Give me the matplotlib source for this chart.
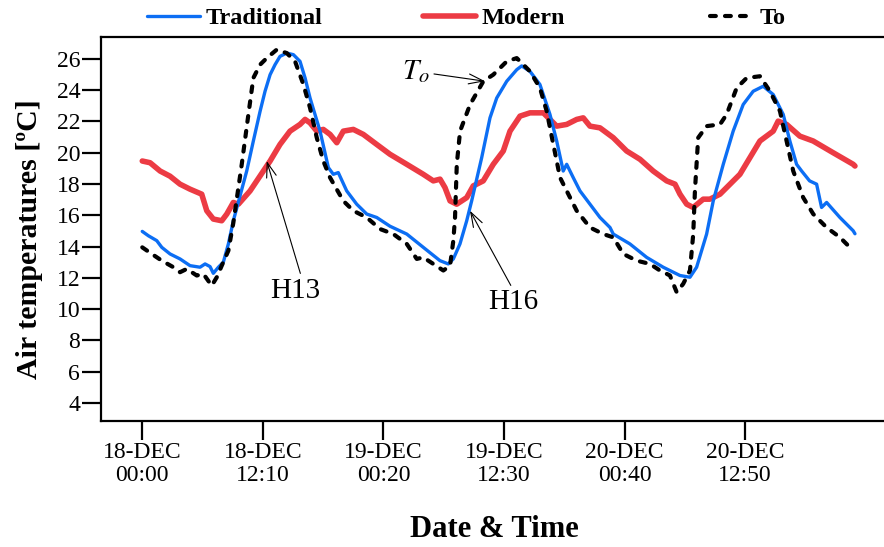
import matplotlib
matplotlib.use("Agg")
import matplotlib.pyplot as plt

plt.rcParams["font.family"] = ["Liberation Serif", "DejaVu Serif"]
plt.rcParams["mathtext.fontset"] = "stix"

# Time axis: hours elapsed since 18-DEC 00:00
trad_hours = [0.0, 0.62, 1.46, 1.97, 2.8, 3.81, 4.82, 5.83, 6.34, 6.84, 7.17, 7.68, 8.18,
              8.69, 9.19, 10.54, 11.21, 11.89, 12.39, 12.9, 13.4, 13.9, 14.58, 15.25, 15.92,
              16.43, 16.93, 17.94, 18.78, 19.28, 19.78, 20.63, 21.64, 22.65, 23.66, 25.0,
              26.69, 28.36, 30.04, 30.88, 31.39, 32.06, 32.74, 33.24, 34.25, 35.09, 35.77,
              36.78, 37.79, 38.29, 39.13, 40.13, 41.14, 41.82, 42.48, 42.83, 43.49, 44.17,
              45.18, 46.19, 47.2, 47.53, 49.21, 50.9, 52.57, 54.26, 55.27, 55.94, 56.95,
              57.62, 58.63, 59.63, 60.64, 61.65, 62.66, 63.67, 64.68, 65.35, 66.03, 66.54,
              67.34, 68.05, 68.55, 69.06, 70.4, 71.74, 71.92]
trad_temp = [14.97, 14.69, 14.38, 13.95, 13.53, 13.21, 12.78, 12.68, 12.89, 12.72, 12.29,
             12.68, 13.0, 14.17, 15.65, 18.83, 20.75, 22.65, 23.93, 24.99, 25.63, 26.16,
             26.37, 26.27, 25.84, 24.78, 23.5, 21.38, 19.05, 18.62, 18.73, 17.56, 16.71,
             16.08, 15.86, 15.3, 14.8, 13.95, 13.1, 12.89, 13.21, 14.17, 15.65, 16.92,
             19.68, 22.23, 23.5, 24.57, 25.31, 25.55, 25.2, 24.36, 22.45, 20.75, 18.83,
             19.26, 18.41, 17.56, 16.71, 15.86, 15.22, 14.8, 14.17, 13.31, 12.68, 12.15,
             12.04, 12.68, 14.8, 16.92, 19.26, 21.38, 23.08, 23.93, 24.25, 23.72, 22.45,
             20.75, 19.26, 18.83, 18.2, 17.99, 16.5, 16.82, 15.86, 15.01, 14.82]

mod_hours = [0.0, 0.79, 1.8, 2.8, 3.81, 4.82, 6.0, 6.51, 7.17, 8.02, 8.53, 9.19, 9.7,
             10.88, 12.22, 12.9, 13.9, 14.91, 15.92, 16.43, 16.93, 17.61, 18.27, 18.95,
             19.63, 20.29, 21.3, 22.31, 23.66, 25.0, 26.69, 28.36, 29.37, 30.05, 30.55,
             31.06, 31.73, 32.74, 33.4, 34.41, 35.42, 36.43, 37.11, 38.12, 39.13, 40.47,
             41.14, 41.82, 42.83, 43.84, 44.5, 45.18, 46.19, 47.53, 48.88, 50.23, 51.56,
             52.92, 53.76, 54.26, 54.94, 55.6, 56.61, 57.28, 58.3, 60.31, 62.33, 63.67,
             64.17, 65.02, 66.36, 67.7, 69.72, 71.74, 71.92]
mod_temp = [19.47, 19.36, 18.83, 18.5, 17.99, 17.67, 17.35, 16.29, 15.76, 15.65, 16.08,
            16.82, 16.71, 17.56, 18.83, 19.47, 20.53, 21.38, 21.81, 22.13, 21.91, 21.38,
            21.49, 21.17, 20.64, 21.38, 21.49, 21.17, 20.53, 19.9, 19.26, 18.62, 18.2,
            18.31, 17.77, 16.92, 16.71, 17.13, 17.88, 18.2, 19.26, 20.11, 21.38, 22.34,
            22.55, 22.55, 22.13, 21.7, 21.81, 22.13, 22.23, 21.7, 21.59, 20.96, 20.11,
            19.58, 18.83, 18.2, 17.99, 17.35, 16.71, 16.5, 17.03, 17.03, 17.35, 18.62,
            20.75, 21.38, 22.02, 21.81, 21.06, 20.75, 20.0, 19.26, 19.15]

to_hours = [0.0, 0.96, 1.97, 3.14, 3.81, 4.49, 5.5, 6.17, 7.01, 7.52, 8.02, 8.69, 9.19,
            10.04, 10.71, 11.21, 11.89, 12.56, 13.57, 14.58, 15.42, 16.26, 16.93, 17.61,
            18.27, 18.95, 20.29, 21.3, 22.65, 24.0, 25.34, 26.69, 27.7, 28.36, 29.37,
            30.38, 31.06, 31.39, 31.56, 31.74, 32.07, 33.08, 34.42, 35.42, 36.78, 37.79,
            39.13, 40.13, 40.81, 41.48, 42.16, 42.83, 43.84, 45.18, 46.52, 47.53, 48.54,
            49.89, 51.23, 52.24, 53.25, 53.93, 54.59, 55.27, 55.6, 55.77, 56.1, 56.95,
            58.3, 58.97, 59.98, 60.99, 62.33, 63.34, 64.35, 65.02, 65.69, 66.7, 67.71,
            69.06, 70.4, 71.41, 71.92]
to_temp = [13.95, 13.53, 13.1, 12.68, 12.36, 12.57, 12.15, 12.25, 11.5, 12.04, 12.78,
           13.74, 15.52, 19.26, 22.45, 24.78, 25.63, 26.05, 26.59, 26.37, 25.84, 24.36,
           22.87, 20.96, 19.47, 18.41, 16.92, 16.29, 15.86, 15.12, 14.8, 14.17, 13.21,
           13.31, 12.89, 12.47, 12.78, 14.38, 15.84, 19.26, 21.38, 23.08, 24.57, 24.99,
           25.84, 26.05, 25.2, 24.14, 22.66, 20.53, 18.41, 17.56, 16.29, 15.22, 14.8,
           14.59, 13.53, 13.1, 12.89, 12.47, 12.15, 11.08, 11.62, 12.47, 14.8, 17.56,
           20.96, 21.7, 21.81, 22.45, 24.14, 24.78, 24.89, 23.93, 22.66, 20.75, 18.83,
           17.13, 16.08, 15.22, 14.59, 13.95, 13.87]

tick_hours = [0.0, 12.1667, 24.3333, 36.5, 48.6667, 60.8333]
tick_labels = ["18-DEC\n00:00", "18-DEC\n12:10", "19-DEC\n00:20",
               "19-DEC\n12:30", "20-DEC\n00:40", "20-DEC\n12:50"]
y_ticks = [4, 6, 8, 10, 12, 14, 16, 18, 20, 22, 24, 26]

BLUE = "#0c6ef4"
RED = "#ec3b44"

fig = plt.figure(figsize=(8.84, 5.47), dpi=100)
ax = fig.add_axes([0.1143, 0.2304, 0.8857, 0.7020])

l_trad, = ax.plot(trad_hours, trad_temp, color=BLUE, lw=2.4, solid_capstyle="round",
                  solid_joinstyle="round", zorder=3)
l_mod, = ax.plot(mod_hours, mod_temp, color=RED, lw=4.0, solid_capstyle="round",
                 solid_joinstyle="round", zorder=2)
l_to, = ax.plot(to_hours, to_temp, color="black", lw=3.0, linestyle=(0, (1.4, 2.2)),
                dash_capstyle="round", zorder=4)

ax.set_xlim(-4.16, 74.85)
ax.set_ylim(2.85, 27.4)
ax.set_xticks(tick_hours)
ax.set_xticklabels(tick_labels, fontsize=17, linespacing=1.15)
ax.set_yticks(y_ticks)
ax.set_yticklabels([str(v) for v in y_ticks], fontsize=17)
ax.tick_params(axis="both", direction="out", length=14, width=1.6, color="black")
ax.tick_params(axis="x", pad=1)
ax.tick_params(axis="y", pad=1)

for side in ("left", "bottom", "top"):
    ax.spines[side].set_linewidth(1.6)
ax.spines["right"].set_visible(False)

ax.set_ylabel("Air temperatures [ºC]", fontsize=21.5, fontweight="bold")
ax.yaxis.set_label_coords(-0.074, 0.474)
ax.set_xlabel("Date & Time", fontsize=22, fontweight="bold")
ax.xaxis.set_label_coords(0.503, -0.245)

arrow = dict(arrowstyle="->,head_length=0.5,head_width=0.17", color="black", lw=0.8,
             shrinkA=1, shrinkB=0)
ax.annotate(r"$T_o$", xy=(34.59, 24.57), xytext=(27.62, 25.2), fontsize=21,
            ha="center", va="center", arrowprops=arrow)
ax.annotate("H13", xy=(12.56, 19.47), xytext=(15.42, 11.19), fontsize=21,
            ha="center", va="center", arrowprops=dict(arrow, relpos=(0.63, 1.0)))
ax.annotate("H16", xy=(33.07, 16.29), xytext=(37.41, 10.43), fontsize=21,
            ha="center", va="center", arrowprops=dict(arrow, relpos=(0.5, 1.0)))

# One legend entry per series, spread across the top margin
legend_font = dict(weight="bold", size=17.5)
entries = [(l_trad, "Traditional", 147, 2.2), (l_mod, "Modern", 423, 2.2), (l_to, "To", 710, 1.85)]
for handle, label, xpix, hlen in entries:
    fig.legend(handles=[handle], labels=[label], loc="center left",
               bbox_to_anchor=(xpix / 884, 1 - 18 / 547), frameon=False, borderpad=0,
               borderaxespad=0, handlelength=hlen, handletextpad=0.2, prop=legend_font)

fig.savefig("out.png", dpi=100)
